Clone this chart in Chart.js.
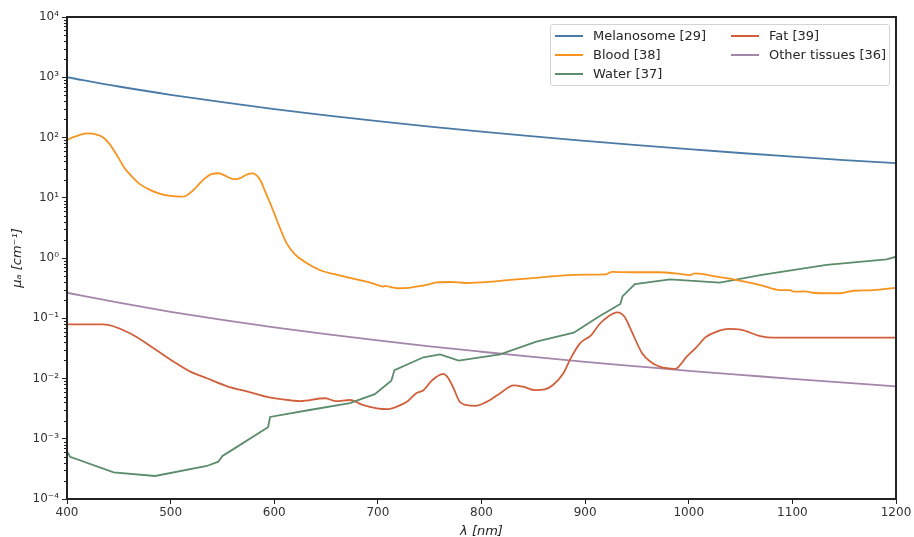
<!DOCTYPE html>
<html>
<head>
<meta charset="utf-8">
<script src="https://cdn.jsdelivr.net/npm/chart.js@4.4.1/dist/chart.umd.min.js"></script>
<style>
  body { margin: 0; background: #fff; }
  #wrap { position: relative; width: 914px; height: 537px; overflow: hidden; }
  #legend {
    position: absolute; left: 550px; top: 24px; width: 338px; height: 60px;
    border: 1px solid #d4d4d4; border-radius: 3px; background: rgba(255,255,255,0.85);
    font: 13px 'DejaVu Sans'; color: #262626;
  }
  .item { position: absolute; height: 16px; line-height: 16px; white-space: nowrap; }
  .item i { position: absolute; left: 0; top: 7px; width: 28px; height: 2px; }
  .item span { position: absolute; left: 38px; top: 0; }
</style>
</head>
<body>
<div id="wrap">
  <canvas id="mua_chart" width="914" height="537"></canvas>
  <div id="legend"></div>
</div>
<script>
// absorption coefficients (cm^-1)
const seriesLabels = ['Melanosome [29]', 'Blood [38]', 'Water [37]', 'Fat [39]', 'Other tissues [36]'];

const gridNm = [400, 450, 500, 550, 600, 650, 700, 750, 800, 850, 900, 950, 1000, 1050, 1100, 1150, 1200];
const melanosome = [1000, 702, 512, 385, 296, 233, 187, 152, 125, 104, 87.8, 74.6, 64, 55.3, 48.1, 42.1, 37.5];
const otherTissues = [0.265, 0.181, 0.128, 0.094, 0.0708, 0.0546, 0.0429, 0.0342, 0.0278, 0.0228, 0.0189, 0.0159, 0.0134, 0.0115, 0.00984, 0.00851, 0.00741];

const bloodNm = [400, 405, 412, 420, 428, 435, 440, 445, 450, 455, 462, 470, 480, 490, 500, 510, 515, 520, 527, 533, 540, 546, 552, 558, 563, 568, 574, 579, 583, 587, 591, 595, 600, 606, 612, 620, 630, 645, 660, 675, 690, 700, 705, 707, 712, 720, 730, 740, 750, 757, 770, 785, 800, 820, 840, 860, 880, 900, 920, 926, 950, 970, 990, 1001, 1006, 1027, 1043, 1069, 1088, 1098, 1100, 1107, 1112, 1120, 1133, 1146, 1159, 1178, 1200];
const blood = [90, 100, 110, 117, 113, 100, 82, 62, 45, 32, 23, 17, 13.5, 11.6, 10.7, 10.4, 10.8, 12.5, 16.5, 21, 25, 25.5, 23.5, 21, 20.3, 21.5, 24.5, 25.3, 23.5, 19, 13, 9.0, 5.5, 3.0, 1.75, 1.15, 0.85, 0.62, 0.53, 0.46, 0.40, 0.355, 0.335, 0.345, 0.33, 0.315, 0.32, 0.34, 0.37, 0.395, 0.4, 0.385, 0.395, 0.42, 0.45, 0.48, 0.515, 0.53, 0.535, 0.59, 0.58, 0.58, 0.55, 0.52, 0.555, 0.49, 0.443, 0.356, 0.294, 0.294, 0.28, 0.276, 0.28, 0.265, 0.26, 0.26, 0.286, 0.294, 0.32];

const waterNm = [400, 403, 445, 485, 535, 546, 550, 556, 594, 596, 634, 673, 697, 713, 716, 744, 760, 778, 818, 853, 889, 898, 913, 934, 936, 948, 982, 1030, 1069, 1133, 1191, 1200];
const water = [0.00062, 0.0005, 0.000277, 0.000241, 0.000353, 0.000416, 0.00052, 0.0006, 0.00155, 0.0023, 0.003, 0.0039, 0.0055, 0.0092, 0.0138, 0.0225, 0.0252, 0.0198, 0.0252, 0.0408, 0.0575, 0.0724, 0.106, 0.173, 0.23, 0.37, 0.443, 0.39, 0.52, 0.766, 0.95, 1.05];

const fatNm = [400, 435, 462, 485, 503, 519, 535, 554, 577, 594, 618, 625, 649, 660, 673, 686, 699, 709, 718, 728, 737, 744, 752, 763, 768, 773, 779, 786, 794, 805, 818, 831, 840, 852, 861, 869, 879, 886, 895, 906, 914, 922, 931, 938, 945, 955, 963, 972, 987, 998, 1008, 1016, 1027, 1038, 1050, 1069, 1082, 1200];
const fat = [0.079, 0.079, 0.0548, 0.0305, 0.019, 0.013, 0.0101, 0.0075, 0.0059, 0.0049, 0.0043, 0.0042, 0.0047, 0.0042, 0.0044, 0.0036, 0.0032, 0.0031, 0.0034, 0.0041, 0.0057, 0.0064, 0.0092, 0.0119, 0.0101, 0.0069, 0.0041, 0.0036, 0.0035, 0.0041, 0.0057, 0.0077, 0.0073, 0.0064, 0.0066, 0.0078, 0.0122, 0.0216, 0.0384, 0.0527, 0.0803, 0.106, 0.125, 0.106, 0.06, 0.0262, 0.019, 0.0157, 0.0145, 0.023, 0.0337, 0.0482, 0.0598, 0.0664, 0.0646, 0.0507, 0.0476, 0.0476];

const yTicks = [1e-4, 1e-3, 1e-2, 1e-1, 1, 10, 100, 1000, 10000];
const yTickLabels = ['10⁻⁴', '10⁻³', '10⁻²', '10⁻¹', '10⁰', '10¹', '10²', '10³', '10⁴'];

const colors = ['#4a7aa6', '#f7931e', '#5b8c6b', '#d25f3c', '#a386aa'];
const smooth = [true, true, false, true, true]; // water is drawn with straight segments

function pairs(xs, ys) {
    return xs.map((x, i) => ({ x: x, y: ys[i] }));
}

// box round the plot + minor ticks on the log axis
const framePlugin = {
    id: 'frame',
    afterDraw(chart) {
        const { ctx, chartArea: a } = chart;
        const y = chart.scales.y;
        ctx.save();
        ctx.strokeStyle = '#222';
        ctx.lineWidth = 1;
        for (let e = -4; e < 4; e++) {
            for (let m = 2; m <= 9; m++) {
                const py = Math.round(y.getPixelForValue(m * Math.pow(10, e))) + 0.5;
                ctx.beginPath();
                ctx.moveTo(a.left - 3, py);
                ctx.lineTo(a.left, py);
                ctx.stroke();
            }
        }
        ctx.lineWidth = 2;
        ctx.strokeRect(a.left, a.top, a.right - a.left, a.bottom - a.top);
        ctx.restore();
    }
};

const seriesData = [
    pairs(gridNm, melanosome),
    pairs(bloodNm, blood),
    pairs(waterNm, water),
    pairs(fatNm, fat),
    pairs(gridNm, otherTissues)
];

const chart = new Chart(document.getElementById('mua_chart'), {
    type: 'line',
    data: {
        datasets: seriesLabels.map((label, i) => ({
            label: label,
            data: seriesData[i],
            borderColor: colors[i],
            borderWidth: 1.8,
            pointRadius: 0,
            fill: false,
            tension: 0,
            cubicInterpolationMode: smooth[i] ? 'monotone' : 'default'
        }))
    },
    options: {
        responsive: false,
        animation: false,
        devicePixelRatio: 1,
        layout: { padding: { left: 0, right: 18, top: 17, bottom: -2 } },
        plugins: { legend: { display: false }, tooltip: { enabled: false } },
        scales: {
            x: {
                type: 'linear',
                min: 400,
                max: 1200,
                afterFit: s => { s.height = 40; },
                border: { display: false },
                grid: { drawOnChartArea: false, tickLength: 5, tickColor: '#222' },
                ticks: { stepSize: 100, padding: 2, color: '#333', font: { family: 'DejaVu Sans', size: 12 },
                         callback: v => String(v) },
                title: { display: true, text: 'λ [nm]', color: '#262626', padding: 0,
                         font: { family: 'DejaVu Sans', size: 13, style: 'italic' } }
            },
            y: {
                type: 'logarithmic',
                min: 1e-4,
                max: 1e4,
                afterFit: s => { s.width = 67; },
                afterBuildTicks: s => { s.ticks = yTicks.map(v => ({ value: v })); },
                border: { display: false },
                grid: { drawOnChartArea: false, tickLength: 5, tickColor: '#222' },
                ticks: { padding: 3, color: '#333', font: { family: 'DejaVu Sans', size: 12 },
                         callback: (v, i) => yTickLabels[i] },
                title: { display: true, text: 'μₐ [cm⁻¹]', color: '#262626', padding: { top: 10 },
                         font: { family: 'DejaVu Sans', size: 13, style: 'italic' } }
            }
        }
    },
    plugins: [framePlugin]
});

// legend in two columns, filled column by column like the original
const legendPos = [[4, 3], [4, 21.7], [4, 40.7], [180, 3], [180, 21.7]];
const legendBox = document.getElementById('legend');
chart.data.datasets.forEach((ds, i) => {
    const item = document.createElement('div');
    item.className = 'item';
    item.style.left = legendPos[i][0] + 'px';
    item.style.top = legendPos[i][1] + 'px';
    item.innerHTML = '<i style="background:' + ds.borderColor + '"></i><span>' + ds.label + '</span>';
    legendBox.appendChild(item);
});
</script>
</body>
</html>
